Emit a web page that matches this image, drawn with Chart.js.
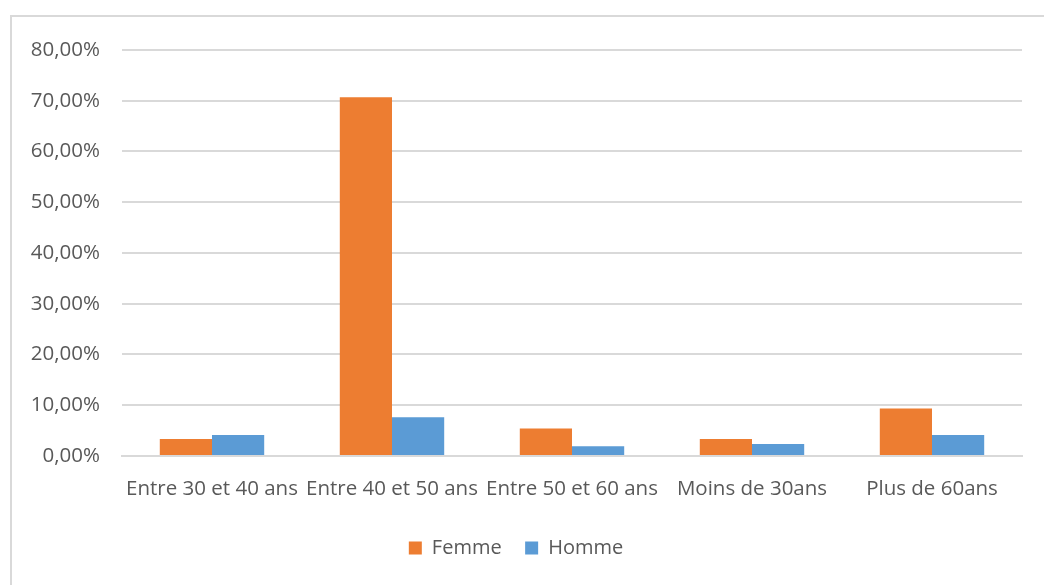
<!DOCTYPE html>
<html>
<head>
<meta charset="utf-8">
<script src="https://cdn.jsdelivr.net/npm/chart.js@4"></script>
<style>
  html, body { margin: 0; padding: 0; background: #fff; }
  #wrap { position: relative; width: 1044px; height: 585px; overflow: hidden; }
  #frame { position: absolute; left: 10px; top: 15px; width: 1040px; height: 580px; border: 2px solid #d9d9d9; box-sizing: border-box; }
  canvas { position: absolute; left: 0; top: 0; }
</style>
</head>
<body>
<div id="wrap">
  <div id="frame"></div>
  <canvas id="ages" width="1044" height="585"></canvas>
</div>
<script>
const categories = ['Entre 30 et 40 ans', 'Entre 40 et 50 ans', 'Entre 50 et 60 ans', 'Moins de 30ans', 'Plus de 60ans']
const femme = [3.35, 70.7, 5.4, 3.35, 9.35]
const homme = [4.1, 7.6, 1.9, 2.35, 4.1]

const text_color = '#595959'
const grid_color = '#d9d9d9'
const font_family = '"Open Sans", Lato, sans-serif'

const ctx = document.getElementById('ages').getContext('2d')

const chart = new Chart(ctx, {
  type: 'bar',
  data: {
    labels: categories,
    datasets: [{
      label: 'Femme',
      data: femme,
      backgroundColor: '#ED7D31',
      categoryPercentage: 0.58,
      barPercentage: 1.0,
    }, {
      label: 'Homme',
      data: homme,
      backgroundColor: '#5B9BD5',
      categoryPercentage: 0.58,
      barPercentage: 1.0,
    }]
  },
  options: {
    responsive: false,
    animation: false,
    layout: {
      padding: { left: 10, right: 22, top: 50, bottom: 17 }
    },
    plugins: {
      legend: {
        position: 'bottom',
        labels: {
          color: text_color,
          boxWidth: 13,
          boxHeight: 13,
          padding: 23.5,
          font: { family: font_family, size: 20 }
        }
      },
      tooltip: { enabled: false }
    },
    scales: {
      x: {
        grid: { display: false },
        border: { color: grid_color, width: 2 },
        ticks: {
          color: text_color,
          padding: 13,
          maxRotation: 0,
          autoSkip: false,
          font: { family: font_family, size: 20.5 }
        }
      },
      y: {
        min: 0,
        max: 80,
        afterFit: (scale) => { scale.width = 112 },
        grid: { color: grid_color, lineWidth: 2, drawTicks: false },
        border: { display: false },
        ticks: {
          stepSize: 10,
          color: text_color,
          padding: 22,
          font: { family: font_family, size: 20.5 },
          callback: (v) => v.toFixed(2).replace('.', ',') + '%'
        }
      }
    }
  }
})
</script>
</body>
</html>
